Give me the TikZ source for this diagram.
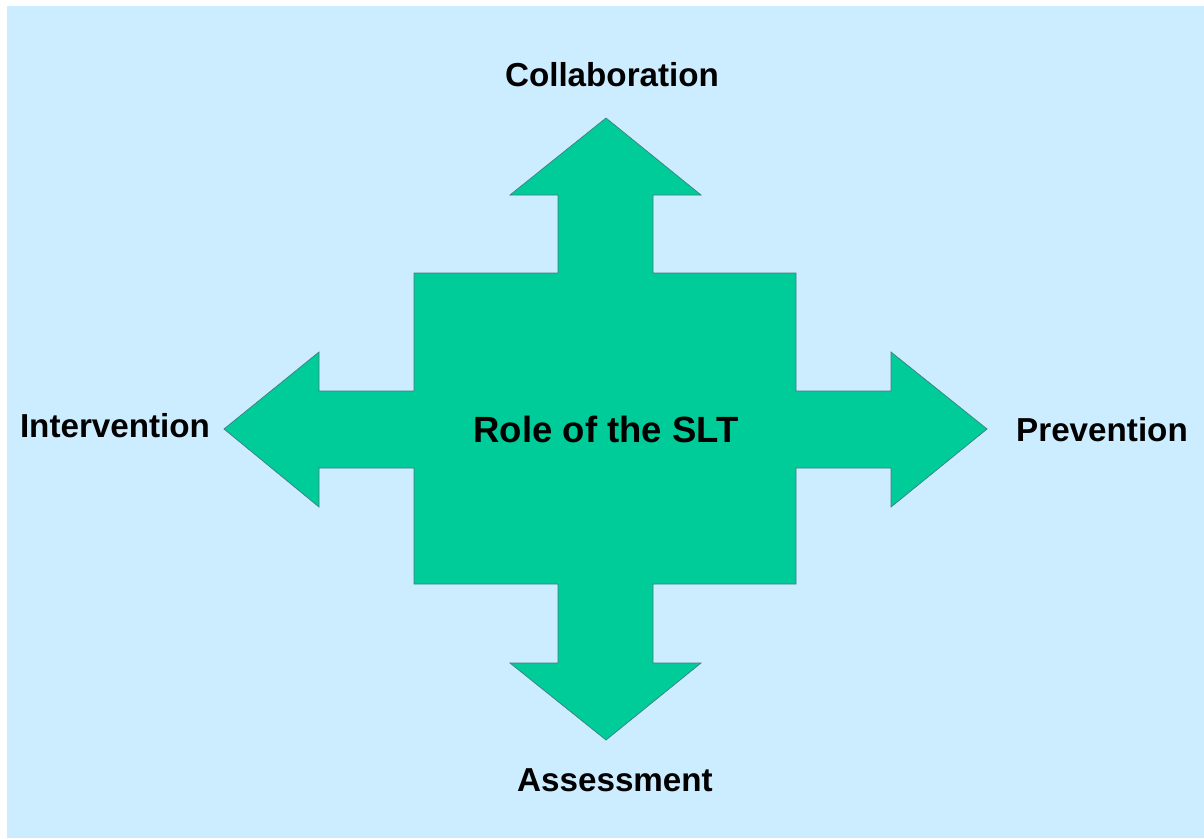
\documentclass[tikz,border=0pt]{standalone}
\usepackage{fontspec}
\setmainfont{Liberation Sans}
\usetikzlibrary{positioning}
\definecolor{sky colour}{HTML}{CCECFF}
\definecolor{arrow colour}{HTML}{00CC99}
\definecolor{edge colour}{HTML}{3F7F7F}
\tikzset{
    % Work in the pixel grid of the slide, y running down
    x=1pt, y=-1pt,
%
    % Fills and lines
    sky fill/.style={fill=sky colour},
    arrow fill/.style={fill=arrow colour, draw=edge colour, line width=0.7pt},
    % Text of the labels
    label text/.style={font=\bfseries\fontsize{33.2}{39}\selectfont,
        anchor=base, inner sep=0},
    every node/.style={align=center},
}

\begin{document}
\begin{tikzpicture}[
    role text/.style={label text, font=\bfseries\fontsize{36.5}{43}\selectfont},
]

\useasboundingbox (0,0) rectangle (1204,838);
\path [sky fill] (7,6) rectangle (1204,838);

% Four headed arrow round the central square
\draw [arrow fill]
    (606,118) coordinate (tip up) -- (701,195) -- (653,195) -- (653,273)
    -- (796,273) -- (796,391) -- (891,391) -- (891,352)
    -- (987,429) coordinate (tip right) -- (891,507) -- (891,468)
    -- (796,468) -- (796,584) -- (653,584) -- (653,663) -- (701,663)
    -- (606,740) coordinate (tip down) -- (510,663) -- (558,663)
    -- (558,584) -- (414,584) -- (414,468) -- (319,468) -- (319,507)
    -- (224,429) coordinate (tip left) -- (319,352) -- (319,391)
    -- (414,391) -- (414,273) -- (558,273) -- (558,195) -- (510,195)
    -- cycle;

\path
    (606,442) node [role text] (role) {Role of the SLT}
    (612,86) node [label text] (collab) {Collaboration}
    (115,437) node [label text] (interv) {Intervention}
    (1102,441) node [label text] (prev) {Prevention}
    (615,791) node [label text] (assess) {Assessment};

\end{tikzpicture}
\end{document}
